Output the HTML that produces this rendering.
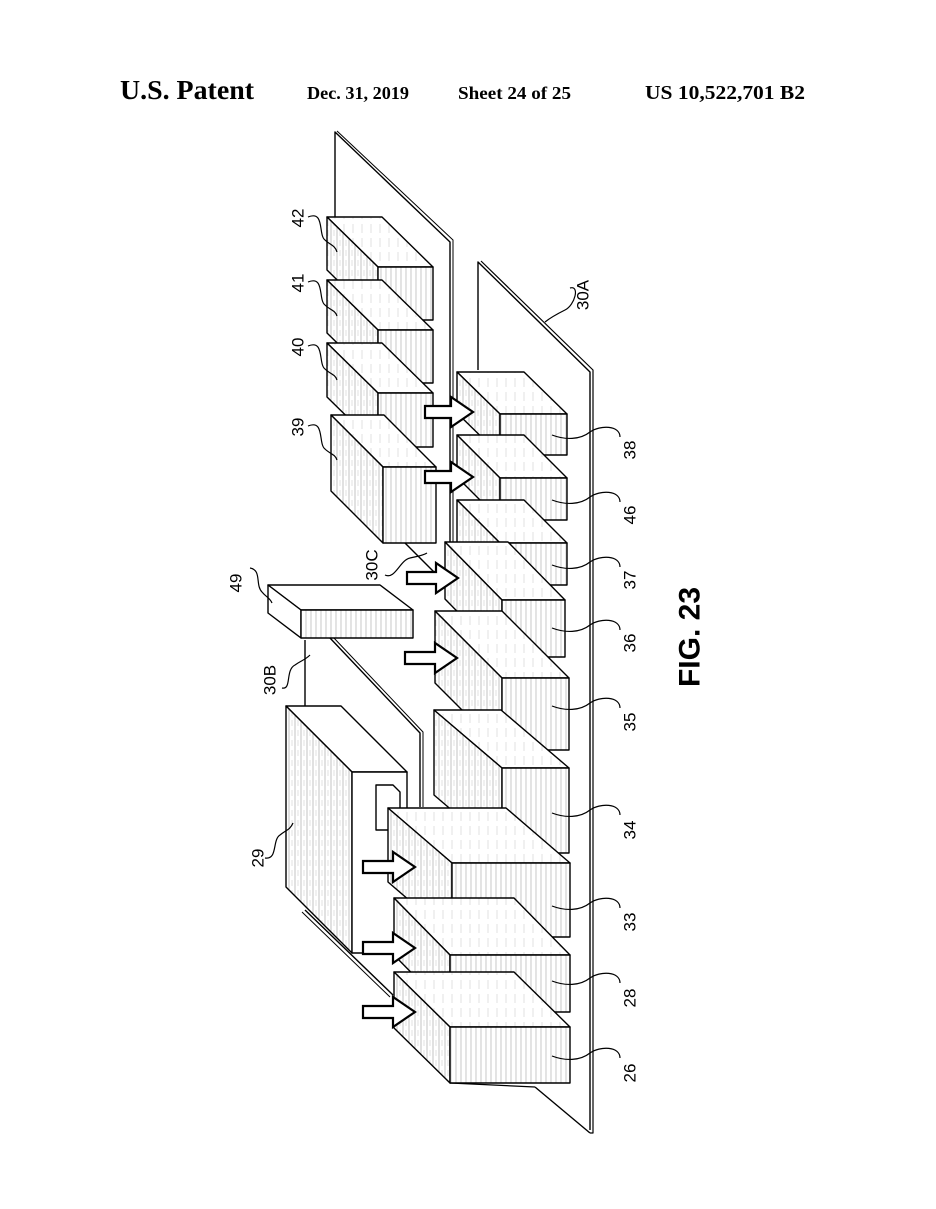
<!DOCTYPE html>
<html><head><meta charset="utf-8"><style>
html,body{margin:0;padding:0;background:#fff;}
svg{display:block;}
</style></head><body>
<svg width="936" height="1209" viewBox="0 0 936 1209" xmlns="http://www.w3.org/2000/svg">
<defs>
<pattern id="h" width="6" height="10" patternUnits="userSpaceOnUse">
<rect width="6" height="10" fill="#fff"/>
<line x1="1" y1="0" x2="1" y2="10" stroke="#aaa" stroke-width="0.7"/>
<line x1="4" y1="0" x2="4" y2="6" stroke="#ccc" stroke-width="0.6"/>
</pattern>
<pattern id="h2" width="5" height="12" patternUnits="userSpaceOnUse">
<rect width="5" height="12" fill="#fff"/>
<line x1="1" y1="0" x2="1" y2="12" stroke="#b0b0b0" stroke-width="0.7"/>
</pattern>
<pattern id="h3" width="9" height="14" patternUnits="userSpaceOnUse">
<rect width="9" height="14" fill="#fff"/>
<line x1="2" y1="0" x2="2" y2="9" stroke="#ccc" stroke-width="0.6"/>
</pattern>
</defs>
<rect width="936" height="1209" fill="#fff"/>
<g font-family="Liberation Serif, serif" font-weight="bold" fill="#000">
<text x="120" y="99" font-size="27" textLength="134" lengthAdjust="spacingAndGlyphs">U.S. Patent</text>
<text x="307" y="99" font-size="18" textLength="102" lengthAdjust="spacingAndGlyphs">Dec. 31, 2019</text>
<text x="458" y="99" font-size="18" textLength="113" lengthAdjust="spacingAndGlyphs">Sheet 24 of 25</text>
<text x="645" y="99" font-size="20" textLength="160" lengthAdjust="spacingAndGlyphs">US 10,522,701 B2</text>
</g>

<g fill="none" stroke="#000" stroke-width="1.4" stroke-linejoin="round">
<path d="M335,217 V132 L450,242 V590"/>
<path d="M337,131 L453,240 V590" stroke-width="1"/>
<path d="M405,543 L445,583"/>
<path d="M478,370 V262 L590,372 V1130"/>
<path d="M481,261 L593,370 V1133 H590" stroke-width="1.2"/>
<path d="M535,1087 L590,1133"/>
<path d="M305,706 V640"/>
<path d="M330,638 L420,733 V807"/>
<path d="M333,637 L423,732 V807" stroke-width="1"/>
<path d="M305,910 L393,995"/>
<path d="M302,912 L390,997" stroke-width="1"/>
</g>

<g stroke="#000" stroke-width="1.4" stroke-linejoin="round">
<polygon points="327,217 382,217 433,267 378,267" fill="url(#h3)"/>
<polygon points="327,217 378,267 378,320 327,270" fill="url(#h)"/>
<rect x="378" y="267" width="55" height="53" fill="url(#h2)"/>
<polygon points="327,280 382,280 433,330 378,330" fill="url(#h3)"/>
<polygon points="327,280 378,330 378,383 327,333" fill="url(#h)"/>
<rect x="378" y="330" width="55" height="53" fill="url(#h2)"/>
<polygon points="327,343 382,343 433,393 378,393" fill="url(#h3)"/>
<polygon points="327,343 378,393 378,447 327,397" fill="url(#h)"/>
<rect x="378" y="393" width="55" height="54" fill="url(#h2)"/>
<polygon points="331,415 384,415 436,467 383,467" fill="url(#h3)"/>
<polygon points="331,415 383,467 383,543 331,491" fill="url(#h)"/>
<rect x="383" y="467" width="53" height="76" fill="url(#h2)"/>
<polygon points="268,585 380,585 413,610 301,610" fill="#fff"/>
<polygon points="268,585 301,610 301,638 268,613" fill="#fff"/>
<rect x="301" y="610" width="112" height="28" fill="url(#h2)"/>
<polygon points="457,372 524,372 567,414 500,414" fill="url(#h3)"/>
<polygon points="457,372 500,414 500,455 457,413" fill="url(#h)"/>
<rect x="500" y="414" width="67" height="41" fill="url(#h2)"/>
<polygon points="457,435 524,435 567,478 500,478" fill="url(#h3)"/>
<polygon points="457,435 500,478 500,520 457,477" fill="url(#h)"/>
<rect x="500" y="478" width="67" height="42" fill="url(#h2)"/>
<polygon points="457,500 524,500 567,543 500,543" fill="url(#h3)"/>
<polygon points="457,500 500,543 500,585 457,542" fill="url(#h)"/>
<rect x="500" y="543" width="67" height="42" fill="url(#h2)"/>
<polygon points="445,542 508,542 565,600 502,600" fill="url(#h3)"/>
<polygon points="445,542 502,600 502,657 445,599" fill="url(#h)"/>
<rect x="502" y="600" width="63" height="57" fill="url(#h2)"/>
<polygon points="435,611 502,611 569,678 502,678" fill="url(#h3)"/>
<polygon points="435,611 502,678 502,750 435,683" fill="url(#h)"/>
<rect x="502" y="678" width="67" height="72" fill="url(#h2)"/>
<polygon points="434,710 501,710 569,768 502,768" fill="url(#h3)"/>
<polygon points="434,710 502,768 502,853 434,795" fill="url(#h)"/>
<rect x="502" y="768" width="67" height="85" fill="url(#h2)"/>
<polygon points="286,706 341,706 407,772 352,772" fill="#fff"/>
<polygon points="286,706 352,772 352,953 286,887" fill="url(#h)"/>
<rect x="352" y="772" width="55" height="181" fill="#fff"/>
<polygon points="376,785 393,785 400,792 400,830 376,830" fill="#fff"/>
<polygon points="388,808 506,808 570,863 452,863" fill="url(#h3)"/>
<polygon points="388,808 452,863 452,937 388,882" fill="url(#h)"/>
<rect x="452" y="863" width="118" height="74" fill="url(#h2)"/>
<polygon points="394,898 514,898 570,955 450,955" fill="url(#h3)"/>
<polygon points="394,898 450,955 450,1012 394,955" fill="url(#h)"/>
<rect x="450" y="955" width="120" height="57" fill="url(#h2)"/>
<polygon points="394,972 514,972 570,1027 450,1027" fill="url(#h3)"/>
<polygon points="394,972 450,1027 450,1083 394,1028" fill="url(#h)"/>
<rect x="450" y="1027" width="120" height="56" fill="url(#h2)"/>
</g>
<path d="M450,1083 L535,1087" fill="none" stroke="#000" stroke-width="1.2"/>

<g fill="#fff" stroke="#000" stroke-width="2.2" stroke-linejoin="miter">
<path d="M425,406 H451 V397 L473,412 L451,427 V418 H425 Z"/>
<path d="M425,471 H451 V462 L473,477 L451,492 V483 H425 Z"/>
<path d="M407,572 H436 V563 L458,578 L436,593 V584 H407 Z"/>
<path d="M405,652 H435 V643 L457,658 L435,673 V664 H405 Z"/>
<path d="M363,861 H393 V852 L415,867 L393,882 V873 H363 Z"/>
<path d="M363,942 H393 V933 L415,948 L393,963 V954 H363 Z"/>
<path d="M363,1006 H393 V997 L415,1012 L393,1027 V1018 H363 Z"/>
</g>

<g fill="none" stroke="#000" stroke-width="1.2">
<path d="M308,217 C325,210 318,235 325,240 C330,245 335,245 337,252"/>
<path d="M308,282 C325,275 318,300 325,305 C330,310 335,310 337,316"/>
<path d="M308,346 C325,339 318,364 325,369 C330,374 335,374 337,380"/>
<path d="M308,426 C325,419 318,444 325,449 C330,454 335,454 337,460"/>
<path d="M250,568 C262,570 255,585 262,592 C266,597 270,598 272,603"/>
<path d="M282,688 C292,690 285,670 295,665 C302,660 305,660 310,655"/>
<path d="M265,858 C278,860 272,840 280,835 C286,830 290,830 293,823"/>
<path d="M385,575 C395,580 400,560 410,558 C418,556 422,556 427,553"/>
<path d="M570,288 C580,285 575,305 565,310 C555,315 550,318 545,322"/>
<path d="M620,437 C620,425 600,425 590,432 C580,440 565,440 552,435"/>
<path d="M620,502 C620,490 600,490 590,497 C580,505 565,505 552,500"/>
<path d="M620,567 C620,555 600,555 590,562 C580,570 565,570 552,565"/>
<path d="M620,630 C620,618 600,618 590,625 C580,633 565,633 552,628"/>
<path d="M620,708 C620,696 600,696 590,703 C580,711 565,711 552,706"/>
<path d="M620,815 C620,803 600,803 590,810 C580,818 565,818 552,813"/>
<path d="M620,908 C620,896 600,896 590,903 C580,911 565,911 552,906"/>
<path d="M620,983 C620,971 600,971 590,978 C580,986 565,986 552,981"/>
<path d="M620,1058 C620,1046 600,1046 590,1053 C580,1061 565,1061 552,1056"/>
</g>

<g font-family="Liberation Sans, sans-serif" font-size="17" fill="#000" text-anchor="middle" dominant-baseline="central">
<text transform="translate(298,218) rotate(-90)">42</text>
<text transform="translate(298,283) rotate(-90)">41</text>
<text transform="translate(298,347) rotate(-90)">40</text>
<text transform="translate(298,427) rotate(-90)">39</text>
<text transform="translate(236,583) rotate(-90)">49</text>
<text transform="translate(270,680) rotate(-90)">30B</text>
<text transform="translate(372,565) rotate(-90)">30C</text>
<text transform="translate(258,858) rotate(-90)">29</text>
<text transform="translate(583,295) rotate(-90)">30A</text>
<text transform="translate(630,450) rotate(-90)">38</text>
<text transform="translate(630,515) rotate(-90)">46</text>
<text transform="translate(630,580) rotate(-90)">37</text>
<text transform="translate(630,643) rotate(-90)">36</text>
<text transform="translate(630,722) rotate(-90)">35</text>
<text transform="translate(630,830) rotate(-90)">34</text>
<text transform="translate(630,922) rotate(-90)">33</text>
<text transform="translate(630,998) rotate(-90)">28</text>
<text transform="translate(630,1073) rotate(-90)">26</text>
<text transform="translate(690,637) rotate(-90)" font-size="30" font-weight="bold">FIG. 23</text>
</g>
</svg>
</body></html>
